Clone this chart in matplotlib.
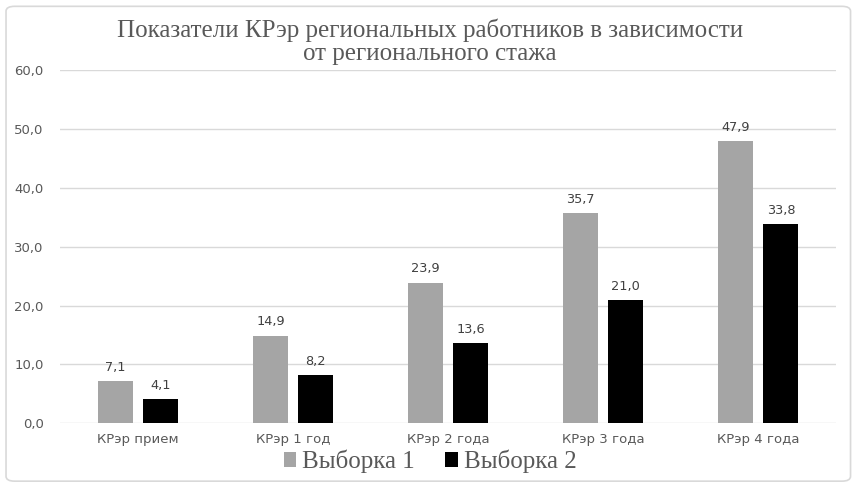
import matplotlib.pyplot as plt
import numpy as np
from matplotlib.patches import FancyBboxPatch

categories = ['КРэр прием', 'КРэр 1 год', 'КРэр 2 года', 'КРэр 3 года', 'КРэр 4 года']
sample1 = [7.1, 14.9, 23.9, 35.7, 47.9]
sample2 = [4.1, 8.2, 13.6, 21.0, 33.8]
yticks = [0, 10, 20, 30, 40, 50, 60]

fig = plt.figure(figsize=(8.6, 4.87), dpi=100)
ax = fig.add_axes([0.0703, 0.131, 0.9017, 0.725])

border = FancyBboxPatch((0.007, 0.012), 0.982, 0.975, boxstyle='round,pad=0,rounding_size=0.01',
                        transform=fig.transFigure, facecolor='white', edgecolor='#d9d9d9',
                        linewidth=1.2, zorder=-10)
fig.patches.append(border)

x = np.arange(len(categories))
w = 0.226
off = 0.145
b1 = ax.bar(x - off, sample1, w, color='#a5a5a5', label='Выборка 1', zorder=3)
b2 = ax.bar(x + off, sample2, w, color='#000000', label='Выборка 2', zorder=3)

for bars, vals in [(b1, sample1), (b2, sample2)]:
    for b, v in zip(bars, vals):
        ax.text(b.get_x() + b.get_width() / 2, v + 1.2, f'{v:.1f}'.replace('.', ','),
                ha='center', va='bottom', fontsize=9.3, color='#404040')

ax.set_xlim(-0.5, len(categories) - 0.5)
ax.set_ylim(0, 60)
ax.set_yticks(yticks)
ax.set_yticklabels([f'{t:.1f}'.replace('.', ',') for t in yticks])
ax.set_xticks(x)
ax.set_xticklabels(categories)
ax.tick_params(axis='both', length=0, labelsize=9.5, colors='#595959')
ax.tick_params(axis='x', pad=7)
ax.tick_params(axis='y', pad=12)
ax.grid(axis='y', color='#d9d9d9', linewidth=1, zorder=0)
for s in ax.spines.values():
    s.set_visible(False)
ax.patch.set_alpha(0)

fig.text(0.5, 0.914, 'Показатели КРэр региональных работников в зависимости\nот регионального стажа',
         ha='center', va='center', fontsize=18, family='Liberation Serif', color='#595959',
         linespacing=1.02)

leg = fig.legend(handles=[b1, b2], loc='center', bbox_to_anchor=(0.5, 0.052), ncol=2,
                 frameon=False, prop={'family': 'Liberation Serif', 'size': 18},
                 handlelength=0.5, handleheight=0.5, handletextpad=0.25, columnspacing=1.2)
for t in leg.get_texts():
    t.set_color('#595959')

fig.savefig('out.png', dpi=100)
